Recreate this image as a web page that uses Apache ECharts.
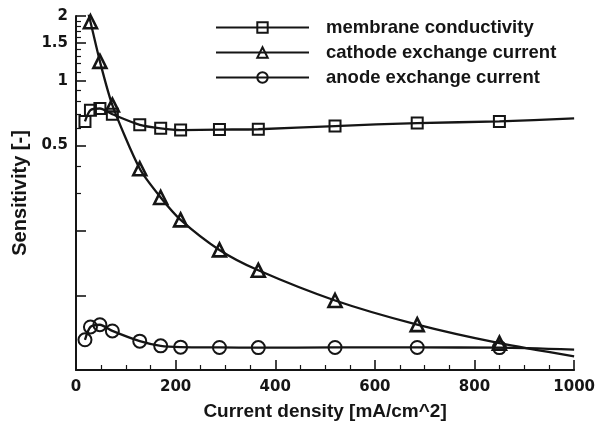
<!DOCTYPE html>
<html>
<head>
<meta charset="utf-8">
<script src="https://cdn.jsdelivr.net/npm/echarts@6/dist/echarts.min.js"></script>
<style>
  html, body { margin: 0; padding: 0; background: #fff; }
  #chart { width: 598px; height: 426px; }
</style>
</head>
<body>
<div id="chart"></div>
<script>
// Current density samples [mA/cm^2]
const currentDensity = [18, 29, 48, 73, 128, 170, 210, 288, 366, 520, 685, 850, 1000];

// Sensitivity values per parameter
const membraneConductivity = [0.646, 0.729, 0.742, 0.698, 0.623, 0.600, 0.589, 0.592, 0.594, 0.615, 0.635, 0.646, 0.667];
const cathodeExchangeCurrent = [2.4, 1.88, 1.23, 0.77, 0.389, 0.286, 0.225, 0.163, 0.131, 0.0948, 0.0732, 0.060, 0.0521];
const anodeExchangeCurrent = [0.0622, 0.0714, 0.0731, 0.0684, 0.0613, 0.0583, 0.0575, 0.0573, 0.0572, 0.0573, 0.0573, 0.0572, 0.056];

// Markers are drawn at every sample except the final curve end point
const markerCount = 12;

// Axis ticks and labels
const xTicks = [0, 200, 400, 600, 800, 1000];
const yLabelValues = [2, 1.5, 1, 0.5];
const yMajorTicks = [2, 1.5, 1, 0.5, 0.2, 0.1];
const yMinorTicks = [1.9, 1.8, 1.7, 1.6, 1.4, 1.3, 1.2, 1.1, 0.9, 0.8, 0.7, 0.6, 0.4, 0.3];

const seriesNames = ['membrane conductivity', 'cathode exchange current', 'anode exchange current'];

const INK = '#151515';
const tickFont = { fontFamily: 'DejaVu Sans', fontWeight: 'bold', fontSize: 15, color: INK };
const titleFont = { fontFamily: 'Liberation Sans', fontWeight: 'bold', fontSize: 19, color: INK };

function pairs(values) {
  return currentDensity.map((x, i) => {
    const item = { value: [x, values[i]] };
    if (i >= markerCount) item.symbol = 'none';
    return item;
  });
}

function curve(name, values, symbol, size, border) {
  return {
    name: name,
    type: 'line',
    data: pairs(values),
    smooth: 0.25,
    clip: true,
    symbol: symbol,
    symbolSize: size,
    showAllSymbol: true,
    lineStyle: { color: INK, width: 2.3 },
    itemStyle: { color: 'rgba(255,255,255,0)', borderColor: INK, borderWidth: border },
    emphasis: { disabled: true },
    z: 3
  };
}

const chart = echarts.init(document.getElementById('chart'), null, { renderer: 'canvas' });

chart.setOption({
  animation: false,
  backgroundColor: '#ffffff',
  grid: { left: 76, right: 22, top: 16, bottom: 53, containLabel: false },
  legend: {
    orient: 'vertical',
    left: 215,
    top: 17,
    padding: 0,
    itemWidth: 93,
    itemHeight: 13,
    itemGap: 4,
    selectedMode: false,
    data: seriesNames,
    textStyle: {
      fontFamily: 'Liberation Sans', fontWeight: 'bold', fontSize: 18.5, color: INK,
      lineHeight: 21,
      padding: [0, 0, 0, 12]
    }
  },
  xAxis: {
    type: 'value',
    min: 0,
    max: 1000,
    interval: 200,
    name: 'Current density [mA/cm^2]',
    nameLocation: 'middle',
    nameGap: 32,
    nameTextStyle: titleFont,
    axisLine: { show: true, onZero: false, lineStyle: { color: INK, width: 2 } },
    axisTick: { show: true, inside: true, length: 10, lineStyle: { color: INK, width: 1.6 } },
    minorTick: { show: true, splitNumber: 4, length: 5, lineStyle: { color: INK, width: 1.2 } },
    axisLabel: Object.assign({ margin: 10, customValues: xTicks, formatter: v => String(v) }, tickFont),
    splitLine: { show: false }
  },
  yAxis: [
    {
      type: 'log',
      logBase: 10,
      min: 0.045,
      max: 2,
      name: 'Sensitivity [-]',
      nameLocation: 'middle',
      nameRotate: 90,
      nameGap: 45,
      nameTextStyle: Object.assign({}, titleFont, { fontSize: 20 }),
      axisLine: { show: true, onZero: false, lineStyle: { color: INK, width: 2 } },
      axisTick: { show: true, inside: true, length: 10, customValues: yMajorTicks, lineStyle: { color: INK, width: 1.6 } },
      axisLabel: Object.assign({ margin: 8, customValues: yLabelValues, formatter: v => String(v) }, tickFont),
      splitLine: { show: false }
    },
    {
      type: 'log',
      logBase: 10,
      min: 0.045,
      max: 2,
      position: 'left',
      axisLine: { show: false },
      axisTick: { show: true, inside: true, length: 5, customValues: yMinorTicks, lineStyle: { color: INK, width: 1.2 } },
      axisLabel: { show: false },
      splitLine: { show: false }
    }
  ],
  series: [
    curve(seriesNames[0], membraneConductivity, 'rect', 11, 2),
    curve(seriesNames[1], cathodeExchangeCurrent, 'triangle', 13, 2.6),
    curve(seriesNames[2], anodeExchangeCurrent, 'circle', 13, 2)
  ]
});
</script>
</body>
</html>
